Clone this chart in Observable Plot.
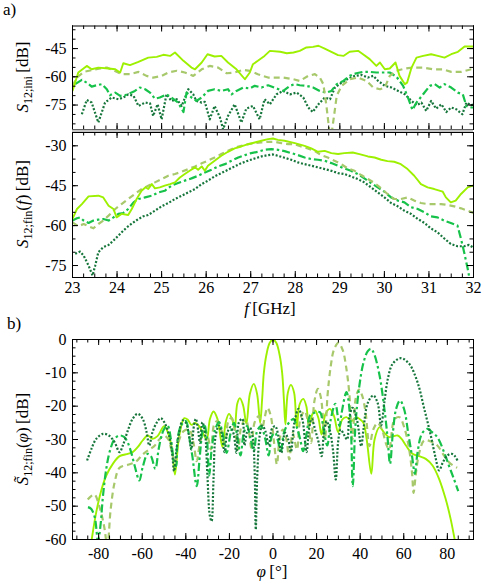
<!DOCTYPE html>
<html><head><meta charset="utf-8">
<script src="https://cdn.jsdelivr.net/npm/d3@7"></script>
<script src="https://cdn.jsdelivr.net/npm/@observablehq/plot@0.6"></script>
<style>
html,body{margin:0;padding:0;background:#fff;}
#chart{position:relative;width:484px;height:588px;overflow:hidden;background:#fff;font-family:"Liberation Serif","DejaVu Serif",serif;}
#chart svg text{font-family:"Liberation Serif","DejaVu Serif",serif !important;}
</style></head><body><div id="chart"></div>
<script>
// ---------- panel a (top): S12;ini vs f [GHz] ----------
const iniSolid = [[23.00,-67.5],[23.13,-57.7],[23.32,-54.2],[23.43,-56.0],[23.58,-55.1],[23.81,-55.6],[23.96,-56.0],[24.07,-57.7],[24.14,-52.8],[24.29,-53.8],[24.48,-52.1],[24.70,-49.8],[24.89,-49.4],[25.04,-48.3],[25.19,-48.9],[25.30,-47.1],[25.49,-51.5],[25.67,-55.1],[25.75,-56.0],[25.90,-52.4],[26.03,-48.0],[26.19,-49.2],[26.34,-48.9],[26.49,-52.4],[26.68,-56.0],[26.87,-61.3],[26.98,-57.7],[27.05,-53.3],[27.16,-51.5],[27.31,-48.9],[27.43,-46.2],[27.66,-46.7],[27.81,-47.5],[27.96,-47.1],[28.10,-46.2],[28.25,-44.4],[28.40,-44.1],[28.52,-43.5],[28.66,-45.0],[28.81,-46.7],[28.96,-48.5],[29.08,-48.9],[29.22,-46.7],[29.41,-46.2],[29.52,-48.0],[29.67,-50.6],[29.82,-54.2],[29.90,-52.4],[30.01,-56.0],[30.12,-55.6],[30.25,-52.4],[30.34,-59.5],[30.46,-63.9],[30.51,-63.1],[30.61,-55.1],[30.72,-49.8],[30.87,-48.9],[31.05,-48.0],[31.20,-48.9],[31.35,-49.8],[31.50,-48.0],[31.65,-46.7],[31.80,-43.9],[32.00,-43.9]];
const iniDashed = [[23.00,-64.8],[23.10,-60.4],[23.25,-57.4],[23.43,-56.5],[23.62,-55.6],[23.77,-55.1],[23.92,-56.5],[24.10,-58.6],[24.29,-58.6],[24.48,-57.4],[24.66,-59.5],[24.81,-60.4],[25.00,-59.5],[25.15,-57.7],[25.34,-56.8],[25.52,-57.7],[25.71,-59.5],[25.90,-56.0],[26.08,-54.2],[26.27,-55.1],[26.46,-58.1],[26.64,-57.7],[26.83,-56.3],[26.98,-56.8],[27.16,-58.6],[27.39,-60.4],[27.73,-60.4],[27.96,-61.3],[28.10,-62.2],[28.29,-59.5],[28.44,-58.6],[28.55,-60.4],[28.63,-63.9],[28.70,-75.5],[28.76,-87.9],[28.81,-91.0],[28.87,-80.8],[28.93,-70.1],[29.04,-64.8],[29.22,-61.3],[29.41,-60.4],[29.60,-62.2],[29.75,-65.7],[29.90,-66.6],[30.01,-65.7],[30.12,-59.5],[30.27,-56.8],[30.46,-55.6],[30.64,-55.1],[30.87,-55.1],[31.09,-56.0],[31.31,-56.0],[31.50,-57.4],[31.72,-57.4],[31.95,-56.0],[32.00,-56.0]];
const iniDashDot = [[23.06,-63.9],[23.21,-61.6],[23.32,-63.1],[23.43,-65.2],[23.54,-64.5],[23.66,-63.9],[23.77,-66.6],[23.84,-69.8],[23.96,-68.4],[24.07,-70.1],[24.18,-69.8],[24.29,-68.7],[24.40,-67.5],[24.51,-65.7],[24.63,-66.6],[24.74,-68.4],[24.85,-71.6],[24.96,-71.0],[25.11,-69.3],[25.22,-71.0],[25.37,-73.7],[25.49,-78.7],[25.56,-68.4],[25.67,-71.0],[25.78,-72.8],[25.90,-71.0],[26.04,-67.5],[26.19,-66.6],[26.34,-67.5],[26.49,-66.6],[26.57,-69.3],[26.68,-67.5],[26.83,-65.7],[26.98,-66.2],[27.09,-64.8],[27.24,-65.7],[27.39,-64.5],[27.58,-66.2],[27.73,-67.5],[27.88,-64.8],[27.99,-63.9],[28.10,-64.5],[28.25,-64.8],[28.40,-65.7],[28.55,-67.5],[28.70,-68.4],[28.81,-67.5],[28.93,-63.9],[29.08,-62.2],[29.22,-59.5],[29.37,-58.1],[29.52,-57.4],[29.67,-57.4],[29.82,-57.7],[29.97,-57.7],[30.12,-57.7],[30.27,-59.9],[30.42,-64.8],[30.53,-71.0],[30.63,-77.6],[30.72,-73.7],[30.87,-69.3],[31.02,-64.8],[31.13,-63.9],[31.24,-65.7],[31.35,-63.9],[31.50,-65.7],[31.65,-68.4],[31.76,-69.3],[31.84,-75.5],[31.91,-76.3],[32.00,-76.3]];
const iniDotted = [[23.21,-79.9],[23.32,-72.3],[23.43,-73.7],[23.58,-84.3],[23.73,-73.7],[23.88,-71.0],[24.03,-71.9],[24.14,-71.0],[24.25,-69.3],[24.37,-70.1],[24.48,-75.5],[24.63,-73.7],[24.74,-74.1],[24.81,-80.8],[24.91,-74.6],[25.00,-82.6],[25.11,-69.3],[25.22,-72.8],[25.34,-71.9],[25.45,-75.5],[25.60,-66.6],[25.71,-69.3],[25.78,-72.8],[25.90,-73.7],[25.97,-73.3],[26.08,-82.6],[26.19,-75.5],[26.31,-81.7],[26.38,-87.9],[26.49,-80.8],[26.64,-74.6],[26.79,-84.3],[26.90,-76.9],[27.05,-75.5],[27.20,-82.6],[27.31,-71.9],[27.43,-74.6],[27.58,-69.3],[27.73,-67.5],[27.88,-69.3],[28.03,-68.4],[28.18,-71.0],[28.29,-76.3],[28.39,-78.7],[28.52,-74.6],[28.66,-71.0],[28.78,-71.9],[28.89,-65.7],[29.04,-63.1],[29.19,-60.9],[29.34,-59.5],[29.49,-59.0],[29.63,-60.4],[29.75,-59.5],[29.86,-62.2],[30.01,-64.8],[30.16,-65.7],[30.31,-67.5],[30.46,-69.3],[30.61,-72.8],[30.72,-75.1],[30.83,-73.7],[30.94,-78.1],[31.05,-72.8],[31.16,-76.9],[31.28,-74.6],[31.39,-78.7],[31.50,-76.3],[31.61,-77.2],[31.75,-79.9],[31.84,-73.7],[31.95,-75.1],[32.00,-74.6]];

// ---------- panel a (middle): S12;fin(f) ----------
const finSolid = [[23.00,-57.5],[23.10,-53.75],[23.21,-51.9],[23.36,-49.0],[23.58,-48.75],[23.69,-49.4],[23.81,-52.5],[23.92,-53.75],[23.99,-56.9],[24.10,-55.6],[24.25,-56.0],[24.33,-53.75],[24.44,-50.0],[24.55,-46.9],[24.64,-45.6],[24.70,-46.25],[24.78,-44.4],[24.85,-46.0],[24.96,-45.6],[25.07,-45.0],[25.19,-44.4],[25.30,-43.75],[25.41,-41.9],[25.52,-40.6],[25.63,-39.4],[25.75,-38.1],[25.82,-39.0],[25.90,-37.75],[25.97,-39.4],[26.04,-37.5],[26.19,-35.6],[26.34,-33.75],[26.49,-32.25],[26.64,-31.0],[26.79,-30.25],[26.94,-29.4],[27.09,-28.75],[27.24,-28.1],[27.39,-27.5],[27.50,-27.25],[27.61,-27.75],[27.76,-28.1],[27.99,-29.0],[28.21,-30.0],[28.36,-31.0],[28.51,-32.25],[28.66,-31.9],[28.81,-32.75],[28.96,-33.1],[29.10,-32.75],[29.29,-32.5],[29.44,-33.1],[29.63,-34.0],[29.78,-34.4],[29.93,-35.25],[30.07,-35.75],[30.22,-36.0],[30.37,-36.9],[30.52,-38.75],[30.67,-41.25],[30.82,-44.4],[30.97,-45.6],[31.12,-46.25],[31.31,-47.25],[31.38,-49.4],[31.49,-51.25],[31.60,-50.6],[31.72,-48.1],[31.87,-45.6],[31.98,-45.0],[32.00,-45.0]];
const finDashed = [[23.00,-58.75],[23.13,-60.25],[23.25,-59.4],[23.36,-60.25],[23.47,-61.0],[23.58,-59.4],[23.69,-58.1],[23.81,-56.25],[23.96,-53.75],[24.10,-51.9],[24.25,-50.0],[24.40,-48.1],[24.55,-46.25],[24.70,-45.0],[24.85,-43.75],[25.00,-42.5],[25.15,-41.25],[25.30,-40.6],[25.45,-39.75],[25.60,-38.75],[25.75,-37.75],[25.90,-36.6],[26.04,-35.6],[26.19,-34.4],[26.34,-33.1],[26.49,-31.9],[26.64,-30.75],[26.79,-30.0],[26.94,-29.4],[27.09,-29.0],[27.24,-28.75],[27.39,-28.5],[27.54,-28.5],[27.69,-29.0],[27.84,-29.4],[27.99,-29.4],[28.13,-30.25],[28.28,-31.0],[28.43,-31.9],[28.58,-33.5],[28.73,-34.4],[28.88,-35.6],[29.03,-36.9],[29.18,-38.5],[29.33,-39.4],[29.48,-41.0],[29.63,-42.5],[29.78,-44.0],[29.93,-46.0],[30.07,-48.1],[30.22,-50.0],[30.37,-50.0],[30.52,-49.4],[30.67,-50.6],[30.82,-51.5],[30.97,-51.9],[31.12,-51.9],[31.27,-51.9],[31.42,-52.25],[31.57,-52.75],[31.72,-53.5],[31.87,-54.4],[32.00,-55.25]];
const finDashDot = [[23.00,-58.1],[23.10,-57.25],[23.17,-56.9],[23.25,-58.1],[23.36,-59.0],[23.47,-58.1],[23.58,-57.75],[23.69,-57.5],[23.81,-58.1],[23.92,-56.9],[24.03,-55.6],[24.14,-55.25],[24.25,-53.75],[24.37,-51.25],[24.48,-50.0],[24.63,-49.4],[24.78,-48.75],[24.93,-47.5],[25.07,-46.9],[25.22,-45.0],[25.37,-44.0],[25.52,-43.1],[25.67,-42.25],[25.82,-41.25],[25.97,-40.0],[26.12,-39.0],[26.27,-37.75],[26.42,-36.9],[26.57,-35.6],[26.72,-34.4],[26.87,-33.5],[27.01,-32.75],[27.16,-32.25],[27.31,-31.5],[27.46,-31.25],[27.61,-31.5],[27.76,-32.0],[27.91,-32.75],[28.06,-33.5],[28.21,-34.4],[28.36,-35.0],[28.51,-35.25],[28.66,-35.6],[28.81,-36.5],[28.96,-37.5],[29.10,-38.5],[29.25,-39.4],[29.40,-40.6],[29.55,-42.25],[29.70,-44.0],[29.85,-45.6],[30.00,-47.25],[30.15,-49.4],[30.30,-50.6],[30.45,-51.25],[30.60,-53.1],[30.75,-53.75],[30.90,-55.0],[31.04,-56.5],[31.19,-56.9],[31.34,-58.1],[31.49,-59.0],[31.64,-60.0],[31.72,-65.0],[31.79,-70.0],[31.87,-76.25],[31.94,-82.5]];
const finDotted = [[23.06,-70.6],[23.17,-69.75],[23.25,-71.25],[23.36,-75.0],[23.45,-78.75],[23.51,-75.0],[23.58,-70.0],[23.69,-68.1],[23.81,-67.25],[23.92,-65.6],[24.03,-63.75],[24.14,-61.9],[24.25,-60.25],[24.37,-58.75],[24.48,-57.5],[24.59,-56.5],[24.70,-56.0],[24.85,-54.4],[25.00,-52.75],[25.15,-51.5],[25.30,-50.0],[25.45,-48.75],[25.60,-47.5],[25.75,-46.25],[25.90,-44.4],[26.04,-43.1],[26.19,-41.5],[26.34,-40.25],[26.49,-39.0],[26.64,-37.75],[26.79,-36.5],[26.94,-35.6],[27.09,-34.75],[27.24,-34.0],[27.39,-33.5],[27.50,-33.25],[27.61,-33.75],[27.76,-34.5],[27.91,-35.25],[28.06,-36.25],[28.21,-36.9],[28.36,-37.5],[28.51,-38.1],[28.66,-38.75],[28.81,-39.4],[28.96,-40.25],[29.10,-40.6],[29.25,-41.5],[29.40,-42.5],[29.55,-43.75],[29.70,-45.6],[29.85,-47.5],[30.00,-49.4],[30.15,-51.5],[30.30,-52.75],[30.45,-54.4],[30.60,-55.6],[30.75,-57.5],[30.90,-59.0],[31.04,-61.0],[31.19,-62.5],[31.34,-64.75],[31.49,-66.9],[31.64,-67.75],[31.79,-67.75],[31.90,-67.25],[31.98,-68.1],[32.00,-68.0]];

// ---------- panel b: S~12;fin(phi) vs phi [deg] ----------
const phiSolid = [[-83.3,-60.5],[-81.1,-51.8],[-78.8,-45.3],[-76.5,-40.8],[-73.5,-37.3],[-70.4,-35.0],[-66.6,-34.3],[-64.4,-33.8],[-62.1,-32.3],[-59.8,-30.3],[-57.5,-28.8],[-55.3,-29.8],[-53.0,-29.0],[-49.9,-26.0],[-47.7,-29.0],[-46.1,-34.0],[-45.0,-40.5],[-43.0,-28.8],[-40.7,-23.6],[-39.2,-24.0],[-37.4,-25.6],[-35.8,-25.0],[-33.9,-26.0],[-31.6,-28.8],[-30.4,-30.0],[-28.9,-23.8],[-27.3,-21.6],[-25.5,-23.8],[-23.2,-32.3],[-21.7,-24.8],[-20.2,-22.3],[-18.7,-24.0],[-17.6,-26.8],[-16.4,-19.3],[-15.2,-17.6],[-13.7,-19.8],[-12.2,-25.3],[-10.6,-16.3],[-8.8,-13.3],[-7.3,-16.3],[-5.9,-25.0],[-5.0,-18.0],[-4.2,-10.0],[-3.0,-4.5],[-1.5,-1.0],[0.0,0.0],[1.5,-1.0],[3.0,-4.5],[4.2,-10.0],[5.0,-18.0],[5.7,-25.5],[6.8,-16.0],[8.2,-13.6],[9.7,-16.0],[10.9,-26.5],[12.2,-19.5],[13.9,-17.8],[15.3,-20.0],[16.5,-26.0],[18.0,-22.5],[19.3,-21.3],[20.8,-23.5],[22.3,-28.5],[24.0,-22.5],[26.1,-20.8],[28.0,-23.0],[29.9,-27.8],[31.8,-24.0],[33.7,-23.3],[36.0,-24.5],[38.2,-23.3],[40.0,-24.0],[41.5,-25.0],[43.0,-30.0],[45.1,-40.3],[46.6,-30.0],[48.9,-26.3],[51.1,-28.0],[53.4,-29.3],[55.3,-29.0],[57.2,-28.8],[59.0,-29.8],[61.0,-31.8],[64.0,-34.3],[67.1,-35.0],[70.1,-35.8],[73.2,-37.8],[76.2,-41.8],[79.2,-47.8],[81.5,-53.8],[83.5,-60.5]];
const phiDashed = [[-85.0,-48.0],[-82.0,-46.5],[-79.5,-50.5],[-77.5,-56.0],[-76.0,-62.0],[-74.5,-51.0],[-72.7,-43.0],[-70.4,-38.5],[-66.6,-37.6],[-62.8,-36.6],[-59.8,-34.5],[-56.8,-33.0],[-54.5,-32.0],[-52.2,-30.0],[-50.0,-28.8],[-48.0,-30.0],[-46.5,-33.5],[-45.0,-37.0],[-43.5,-31.0],[-41.0,-27.5],[-38.5,-27.0],[-36.5,-31.0],[-35.0,-36.5],[-33.5,-31.0],[-31.5,-27.5],[-30.0,-29.0],[-28.5,-33.0],[-27.0,-25.5],[-25.5,-24.5],[-23.5,-27.5],[-22.0,-31.0],[-20.5,-24.5],[-19.0,-23.5],[-17.5,-27.0],[-16.0,-33.0],[-14.5,-26.0],[-12.5,-24.0],[-11.0,-28.0],[-9.8,-33.0],[-8.5,-25.0],[-6.5,-23.0],[-5.0,-27.0],[-4.0,-24.0],[-2.5,-20.5],[-1.0,-23.0],[0.5,-31.0],[1.8,-37.5],[3.0,-30.0],[4.5,-27.0],[6.0,-29.5],[7.5,-36.0],[9.0,-28.0],[11.0,-33.0],[12.5,-24.0],[14.5,-21.5],[16.0,-24.5],[17.5,-31.0],[19.0,-18.5],[20.6,-14.8],[22.0,-17.5],[23.8,-30.0],[25.0,-17.0],[26.5,-8.0],[28.0,-3.0],[30.0,-1.0],[32.0,-3.2],[33.5,-8.0],[35.0,-16.0],[36.4,-30.0],[38.0,-17.5],[39.5,-15.0],[41.0,-17.0],[42.5,-22.0],[44.3,-32.0],[46.0,-27.0],[48.0,-25.0],[50.0,-27.0],[52.0,-31.5],[53.3,-33.0],[55.7,-24.0],[58.0,-23.3],[60.5,-27.0],[62.5,-33.0],[63.8,-40.0],[64.5,-46.0],[65.6,-40.0],[67.1,-34.0],[69.4,-30.3],[72.4,-30.6],[75.4,-31.8],[78.5,-34.8],[81.0,-37.0],[84.5,-38.5]];
const phiDashDot = [[-84.9,-50.3],[-83.5,-50.8],[-81.8,-53.3],[-80.3,-60.5],[-79.2,-56.0],[-78.0,-46.8],[-76.5,-38.8],[-75.0,-33.8],[-72.7,-29.8],[-70.4,-28.8],[-68.2,-29.3],[-66.6,-31.0],[-65.1,-33.8],[-63.5,-37.8],[-61.3,-42.3],[-59.8,-38.3],[-57.5,-34.3],[-56.0,-35.0],[-54.0,-38.8],[-52.5,-33.0],[-51.0,-28.5],[-49.9,-26.8],[-48.4,-25.8],[-46.8,-30.0],[-45.4,-36.8],[-44.5,-38.0],[-43.8,-30.0],[-42.2,-25.8],[-40.0,-24.5],[-38.5,-29.0],[-37.0,-35.0],[-35.0,-44.0],[-33.6,-35.0],[-32.5,-28.0],[-31.6,-25.3],[-30.4,-29.0],[-29.3,-40.8],[-28.0,-32.0],[-26.5,-27.0],[-24.8,-24.8],[-23.0,-28.5],[-21.3,-34.0],[-19.4,-28.0],[-17.9,-25.0],[-16.4,-29.0],[-14.9,-34.8],[-13.4,-28.0],[-11.9,-26.0],[-10.4,-29.5],[-8.8,-33.5],[-7.3,-27.5],[-5.5,-26.0],[-3.5,-30.0],[-2.0,-34.8],[-0.5,-29.0],[1.0,-28.0],[2.5,-31.0],[3.5,-34.0],[5.0,-28.0],[6.4,-25.8],[8.0,-24.5],[9.4,-23.8],[11.0,-26.5],[12.5,-30.0],[13.8,-33.5],[15.5,-28.0],[17.0,-22.8],[19.0,-22.0],[21.5,-21.8],[23.0,-26.0],[24.9,-31.8],[26.5,-24.0],[28.6,-19.3],[30.5,-26.0],[31.5,-22.0],[33.7,-15.8],[35.5,-24.0],[36.6,-44.0],[37.8,-26.0],[39.5,-14.5],[41.5,-7.0],[43.5,-3.5],[45.0,-2.8],[46.5,-4.5],[48.9,-10.8],[51.1,-20.8],[52.5,-29.0],[53.7,-37.3],[55.0,-28.0],[56.5,-20.8],[58.3,-18.3],[60.2,-21.0],[62.2,-28.8],[63.8,-35.0],[65.1,-40.3],[66.3,-34.0],[68.3,-28.3],[70.9,-26.8],[73.0,-27.8],[75.4,-29.3],[78.5,-33.8],[80.7,-37.8],[83.0,-41.8],[85.0,-45.5]];
const phiDotted = [[-85.3,-36.3],[-83.3,-32.8],[-81.1,-29.8],[-78.0,-28.3],[-75.3,-28.8],[-72.7,-30.8],[-70.4,-33.8],[-68.9,-31.8],[-66.6,-27.3],[-64.4,-23.8],[-62.1,-22.3],[-59.8,-23.8],[-58.0,-27.8],[-56.8,-31.8],[-55.3,-27.8],[-53.4,-25.0],[-51.5,-23.6],[-49.5,-25.3],[-47.7,-28.8],[-46.3,-34.0],[-45.4,-39.5],[-44.3,-33.0],[-43.0,-27.8],[-41.5,-24.3],[-40.0,-25.0],[-38.5,-29.0],[-37.5,-33.0],[-36.3,-26.0],[-35.4,-23.8],[-34.3,-27.5],[-33.5,-31.0],[-32.4,-24.8],[-31.2,-28.0],[-30.1,-40.8],[-29.0,-52.8],[-28.2,-54.5],[-27.3,-42.0],[-26.3,-28.8],[-24.8,-25.8],[-23.5,-28.5],[-22.2,-33.8],[-21.0,-28.0],[-19.4,-26.3],[-18.0,-28.5],[-16.8,-34.0],[-15.6,-24.8],[-14.1,-23.8],[-13.1,-31.8],[-12.0,-28.0],[-10.5,-26.5],[-9.2,-30.0],[-8.4,-40.0],[-7.9,-57.0],[-7.3,-42.0],[-6.1,-28.8],[-5.0,-25.8],[-3.5,-27.5],[-2.0,-31.8],[-0.5,-26.8],[1.0,-26.0],[2.5,-29.0],[3.8,-34.0],[5.5,-28.0],[7.0,-30.0],[8.2,-33.8],[9.8,-25.0],[11.7,-20.8],[13.5,-24.0],[15.4,-33.8],[16.5,-27.0],[17.7,-23.8],[19.5,-27.5],[21.0,-31.0],[22.3,-35.0],[23.5,-27.0],[24.6,-24.5],[26.0,-27.0],[27.5,-33.0],[28.8,-42.0],[30.0,-30.0],[31.1,-27.0],[32.5,-28.5],[34.0,-30.0],[35.0,-23.5],[36.5,-20.5],[38.5,-24.0],[40.5,-32.0],[41.5,-27.0],[43.5,-19.0],[46.0,-16.8],[48.0,-19.0],[49.6,-25.8],[51.1,-18.8],[52.7,-11.8],[54.9,-7.3],[58.7,-5.6],[62.5,-7.3],[66.3,-12.8],[69.4,-20.8],[72.4,-28.8],[74.7,-35.8],[76.2,-39.3],[78.0,-36.8],[80.0,-34.8],[82.0,-34.3],[83.5,-35.0],[85.0,-36.8]];

// ---------- axes ----------
const fTicks = [23, 24, 25, 26, 27, 28, 29, 30, 31, 32];
const iniTicks = [-75, -60, -45];
const finTicks = [-75, -60, -45, -30];
const phiTicks = [-80, -60, -40, -20, 0, 20, 40, 60, 80];
const phiDbTicks = [-60, -50, -40, -30, -20, -10, 0];

const colors = {solid: "#9cf000", dashed: "#a8c86c", dashdot: "#17c24a", dotted: "#17763c"};
const styles = {
  solid:   {stroke: colors.solid, dash: null, w: 1.9},
  dashed:  {stroke: colors.dashed, dash: "6,4", w: 2.2},
  dashdot: {stroke: colors.dashdot, dash: "8,3,2.5,3", w: 2.2},
  dotted:  {stroke: colors.dotted, dash: "2,1.8", w: 2.2}
};

const W = 484, ML = 72, MR = 11;
const FONT = '"Liberation Serif", "DejaVu Serif", serif';

function panel(cfg) {
  const fw = W - ML - MR, fh = cfg.height - cfg.mt - cfg.mb;
  const maj = 6, mn = 3.5, tk = {stroke: "#000", strokeWidth: 1};
  const marks = [];
  for (const s of cfg.series) {
    const st = styles[s.style];
    marks.push(Plot.line(s.data, {x: d => d[0], y: d => d[1], stroke: st.stroke, strokeWidth: st.w,
      strokeDasharray: st.dash, strokeLinecap: "butt", curve: cfg.curve, clip: true, strokeLinejoin: "round"}));
  }
  marks.push(
    Plot.tickX(cfg.xMaj, {x: d => d, insetTop: fh - maj, ...tk}),
    Plot.tickX(cfg.xMaj, {x: d => d, insetBottom: fh - maj, ...tk}),
    Plot.tickX(cfg.xMin, {x: d => d, insetTop: fh - mn, ...tk}),
    Plot.tickX(cfg.xMin, {x: d => d, insetBottom: fh - mn, ...tk}),
    Plot.tickY(cfg.yMaj, {y: d => d, insetRight: fw - maj, ...tk}),
    Plot.tickY(cfg.yMaj, {y: d => d, insetLeft: fw - maj, ...tk}),
    Plot.tickY(cfg.yMin, {y: d => d, insetRight: fw - mn, ...tk}),
    Plot.tickY(cfg.yMin, {y: d => d, insetLeft: fw - mn, ...tk}),
    Plot.frame({stroke: "#000", strokeWidth: 1}),
    Plot.axisY(cfg.yMaj, {anchor: "left", tickSize: 0, tickPadding: 6, tickFormat: d => String(d), fontSize: 16, fontFamily: FONT, label: null})
  );
  if (cfg.xLabels) marks.push(Plot.axisX(cfg.xLabels, {anchor: "bottom", tickSize: 0, tickPadding: cfg.xPad, tickFormat: d => String(d), fontSize: 16, fontFamily: FONT, label: null}));
  const svg = Plot.plot({
    width: W, height: cfg.height,
    marginLeft: ML, marginRight: MR, marginTop: cfg.mt, marginBottom: cfg.mb,
    x: {domain: cfg.xDomain, axis: cfg.xLabels ? undefined : null},
    y: {domain: cfg.yDomain},
    style: {background: "transparent", fontFamily: FONT, fontSize: "16px", color: "#000", overflow: "visible"},
    marks
  });
  svg.style.position = "absolute";
  svg.style.left = "0px";
  svg.style.top = cfg.top + "px";
  return svg;
}

const chart = document.getElementById("chart");

chart.appendChild(panel({
  top: 0, height: 135, mt: 25.5, mb: 6,
  xDomain: [23, 32], yDomain: [-88, -33],
  xMaj: fTicks, xMin: d3.range(23, 32.001, 0.25),
  yMaj: iniTicks, yMin: d3.range(-85, -34, 5),
  curve: "linear",
  series: [
    {data: iniDotted, style: "dotted"},
    {data: iniDashDot, style: "dashdot"},
    {data: iniDashed, style: "dashed"},
    {data: iniSolid, style: "solid"}
  ]
}));

chart.appendChild(panel({
  top: 120, height: 180, mt: 12, mb: 23,
  xDomain: [23, 32], yDomain: [-79.5, -25],
  xMaj: fTicks, xMin: d3.range(23, 32.001, 0.25),
  yMaj: finTicks, yMin: d3.range(-75, -29, 5),
  xLabels: fTicks, xPad: 4,
  curve: "linear",
  series: [
    {data: finDotted, style: "dotted"},
    {data: finDashDot, style: "dashdot"},
    {data: finDashed, style: "dashed"},
    {data: finSolid, style: "solid"}
  ]
}));

chart.appendChild(panel({
  top: 330, height: 250, mt: 9, mb: 41,
  xDomain: [-92, 92], yDomain: [-60, 0],
  xMaj: phiTicks, xMin: d3.range(-90, 90.001, 5),
  yMaj: phiDbTicks, yMin: d3.range(-60, 0.001, 2.5),
  xLabels: phiTicks, xPad: 8,
  curve: "catmull-rom",
  series: [
    {data: phiSolid, style: "solid"},
    {data: phiDashed, style: "dashed"},
    {data: phiDashDot, style: "dashdot"},
    {data: phiDotted, style: "dotted"}
  ]
}));

// ---------- labels overlay ----------
const ov = d3.select(chart).append("svg")
  .attr("width", W).attr("height", 588)
  .style("position", "absolute").style("left", "0px").style("top", "0px")
  .style("pointer-events", "none");

ov.append("rect").attr("x", ML).attr("y", 129.5).attr("width", W - ML - MR).attr("height", 2.5).attr("fill", "#c4c4c4");

ov.append("text").attr("x", 3).attr("y", 15).attr("font-size", 17).attr("font-family", FONT).text("a)");
ov.append("text").attr("x", 7).attr("y", 329).attr("font-size", 17).attr("font-family", FONT).text("b)");

function yLabel(cy, parts) {
  const t = ov.append("text").attr("transform", `translate(28,${cy}) rotate(-90)`)
    .attr("text-anchor", "middle").attr("font-size", 17).attr("font-family", FONT);
  for (const p of parts) {
    const ts = t.append("tspan").text(p.t);
    if (p.i) ts.attr("font-style", "italic");
    if (p.s) ts.attr("font-size", 12);
    if (p.dy) ts.attr("dy", p.dy);
  }
}
yLabel(77, [{t: "S", i: true}, {t: "12;ini", s: true, dy: 4}, {t: "\u2009[dB]", dy: -4}]);
yLabel(204, [{t: "S", i: true}, {t: "12;fin", s: true, dy: 4}, {t: "(", dy: -4}, {t: "f", i: true}, {t: ")\u2009[dB]"}]);
yLabel(439, [{t: "S\u0303", i: true}, {t: "12;fin", s: true, dy: 4}, {t: "(", dy: -4}, {t: "φ", i: true}, {t: ")\u2009[dB]"}]);

const fx = ov.append("text").attr("x", 270).attr("y", 314).attr("text-anchor", "middle").attr("font-size", 17).attr("font-family", FONT);
fx.append("tspan").attr("font-style", "italic").text("f");
fx.append("tspan").text("\u2009[GHz]");
const px = ov.append("text").attr("x", 272).attr("y", 577).attr("text-anchor", "middle").attr("font-size", 17).attr("font-family", FONT);
px.append("tspan").attr("font-style", "italic").text("φ");
px.append("tspan").text("\u2009[°]");
</script>
</body></html>
